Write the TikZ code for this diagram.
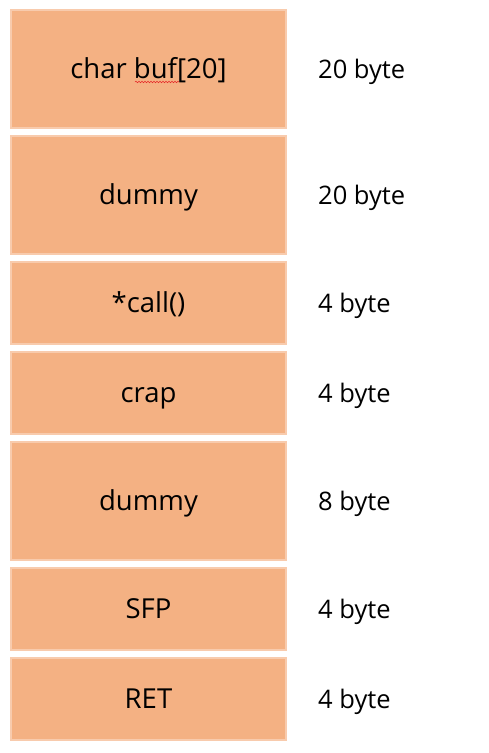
\documentclass[tikz,border=0pt]{standalone}
\usepackage{fontspec}
\setmainfont{Open Sans}
\usetikzlibrary{decorations.pathmorphing}
\definecolor{slotfill}{RGB}{244,177,131}
\definecolor{slotedge}{RGB}{248,203,173}
\definecolor{typored}{RGB}{230,40,40}

\begin{document}
\begin{tikzpicture}[
    x=1pt,
    y=-1pt,
    slot/.style={fill=slotfill,draw=slotedge,line width=1.2pt,minimum width=275pt,
      inner sep=0pt,text=black,text height=19.6pt,text depth=0pt,
      font=\fontsize{27.5}{32}\selectfont},
    size/.style={anchor=west,inner sep=0pt,text height=18.2pt,text depth=0pt,
      font=\fontsize{25.5}{30}\selectfont}
]
  \useasboundingbox (0,0) rectangle (488,753);

  % stack frame, top to bottom
  \foreach \id/\y/\h/\txt/\len in {buf/69/118/{char buf[20]}/{20 byte},
      dummyA/195/118/dummy/{20 byte},
      call/303/82/*call()/{4 byte},
      crap/393/82/crap/{4 byte},
      dummyB/501/118/dummy/{8 byte},
      sfp/609/82/SFP/{4 byte},
      ret/699/82/RET/{4 byte}}
  {
    \node[slot,minimum height=\h pt] (\id) at (148.5,\y) {\txt};
    \node[size] (\id len) at (318,\y) {\len};
  }

  % spell-check squiggle under buf
  \draw[typored,line width=0.5pt,decorate,decoration={snake,amplitude=0.8pt,segment length=3pt}]
    (135,82) -- (179,82);
\end{tikzpicture}
\end{document}
